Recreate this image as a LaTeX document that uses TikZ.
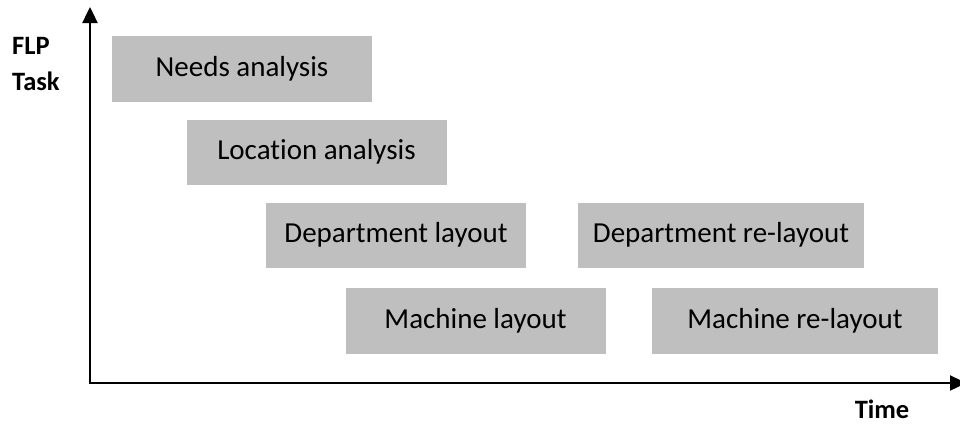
\documentclass[tikz,border=0pt]{standalone}
\usepackage{fontspec}
\setmainfont{Carlito}[Ligatures=NoCommon]
\usetikzlibrary{arrows.meta}
\begin{document}
\begin{tikzpicture}[x=1pt,y=-1pt,
  task/.style={fill=taskgray,draw=none,inner sep=0pt,font=\fontsize{29}{32}\selectfont},
  axislabel/.style={font=\bfseries\fontsize{26.5}{36}\selectfont,inner sep=0pt},
  axis/.style={line width=2.4pt,-{Triangle[length=16pt,width=15pt]}}]
\definecolor{taskgray}{HTML}{BFBFBF}
\useasboundingbox (0,0) rectangle (960,423);
% task boxes (corner to corner)
\node[task,minimum width=260pt,minimum height=66pt] (needs) at (242,69) {Needs analysis};
\node[task,minimum width=260pt,minimum height=65pt] (loc) at (316.5,152) {Location analysis};
\node[task,minimum width=260pt,minimum height=65pt] (dept) at (396,235) {Department layout};
\node[task,minimum width=286pt,minimum height=65pt] (deptre) at (721,235) {Department re-layout};
\node[task,minimum width=260pt,minimum height=66pt] (mach) at (475.5,320.5) {Machine layout};
\node[task,minimum width=286pt,minimum height=66pt] (machre) at (795,320.5) {Machine re-layout};
% axes
\coordinate (origin) at (90,383);
\coordinate (ytip) at (90,7);
\coordinate (xtip) at (966,383);
\draw[axis] (origin) -- (ytip);
\draw[axis] ([xshift=-1.2pt]origin) -- (xtip);
% axis labels
\node[axislabel,anchor=west,align=left] (flp) at (12,64) {FLP\\Task};
\node[axislabel] (time) at (882,409) {Time};
\end{tikzpicture}
\end{document}
